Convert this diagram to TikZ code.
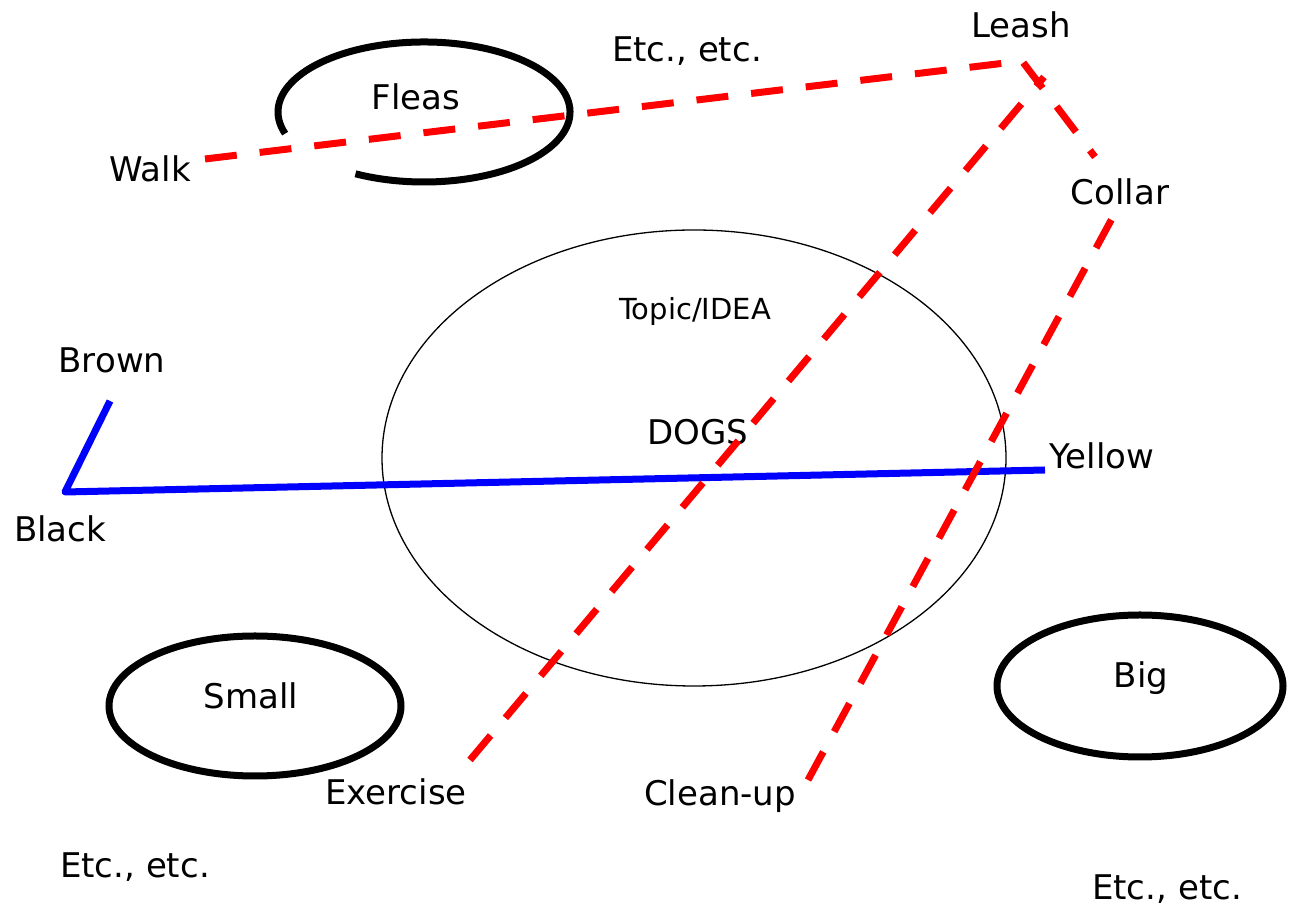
\documentclass[tikz,border=0pt]{standalone}
\usepackage{fontspec}
\setmainfont{DejaVu Sans}
\usetikzlibrary{shapes.geometric}
\begin{document}
\begin{tikzpicture}[x=1pt,y=1pt,
  lbl/.style={anchor=base,inner sep=0pt,font=\fontsize{34}{38}\selectfont},
  small lbl/.style={anchor=base,inner sep=0pt,font=\fontsize{29}{32}\selectfont},
  reddash/.style={draw=red,line width=7pt,dash pattern=on 32pt off 23pt},
  blueline/.style={draw=blue,line width=7pt,line join=round},
  thickring/.style={draw=black,line width=7pt},
  thinring/.style={draw=black,line width=1.3pt}]
\useasboundingbox[fill=white] (0,0) rectangle (1290,912);
% main ellipse
\node[thinring,ellipse,minimum width=624pt,minimum height=456pt,inner sep=0pt] (topic) at (694,454) {};
% labels
\node[lbl] (fleas) at (416,802) {Fleas};
\node[lbl] (etc1) at (687,850) {Etc., etc.};
\node[lbl] (leash) at (1021,874) {Leash};
\node[lbl] (walk) at (150,730) {Walk};
\node[lbl] (collar) at (1120,707) {Collar};
\node[small lbl] (idea) at (695,592) {Topic/IDEA};
\node[lbl] (brown) at (112,539) {Brown};
\node[lbl] (dogs) at (698,467) {DOGS};
\node[lbl] (yellow) at (1102,443) {Yellow};
\node[lbl] (black) at (60,370) {Black};
\node[lbl] (smalltxt) at (251,203) {Small};
\node[lbl] (big) at (1141,224) {Big};
\node[lbl] (exercise) at (396,107) {Exercise};
\node[lbl] (cleanup) at (720,106) {Clean-up};
\node[lbl] (etc2) at (135,34) {Etc., etc.};
\node[lbl] (etc3) at (1167,12) {Etc., etc.};
% rings
\coordinate (fleasc) at (424,800);
\draw[thickring] ([shift={(242:146 and 70)}]fleasc) arc[start angle=242,end angle=558,x radius=146,y radius=70];
\coordinate (smallc) at (255,206);
\draw[thickring] (smallc) ellipse[x radius=146,y radius=70];
\coordinate (bigc) at (1140,226);
\draw[thickring] (bigc) ellipse[x radius=143,y radius=71];
% blue lines
\coordinate (brownend) at (110,511);
\coordinate (blackend) at (65,420);
\coordinate (yellowend) at (1045,442);
\draw[blueline] (brownend) -- (blackend) -- (yellowend);
% red dashed lines
\coordinate (walkend) at (205,753);
\coordinate (leashpt) at (1022,851);
\coordinate (collarend) at (1095,755);
\draw[reddash] (walkend) -- (leashpt) -- (collarend);
\coordinate (leashdiag) at (1044,835);
\coordinate (exend) at (470,152);
\draw[reddash] (exend) -- (leashdiag);
\coordinate (collardiag) at (1115,699);
\coordinate (cleanend) at (808,132);
\draw[reddash] (cleanend) -- (collardiag);
\end{tikzpicture}
\end{document}
